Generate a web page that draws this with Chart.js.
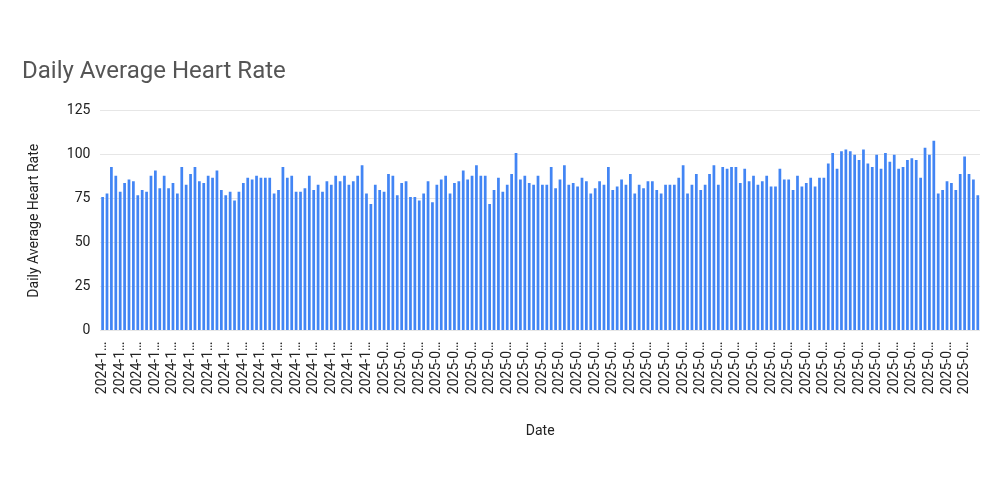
<!DOCTYPE html>
<html>
<head>
<meta charset="utf-8">
<script src="https://cdn.jsdelivr.net/npm/chart.js@4/dist/chart.umd.min.js"></script>
<style>
  html, body { margin: 0; padding: 0; background: #fff; }
  #wrap { width: 1000px; height: 500px; }
</style>
</head>
<body>
<div id="wrap"><canvas id="c"></canvas></div>
<script>
"use strict";

const startDate = "2024-11-01";
const heartRate = [
  76, 78, 93, 88, 79, 84, 86, 85, 77, 80, 79, 88, 91, 81, 88, 81, 84, 78, 93, 83,
  89, 93, 85, 84, 88, 87, 91, 80, 77, 79, 74, 79, 84, 87, 86, 88, 87, 87, 87, 78,
  80, 93, 87, 88, 79, 79, 81, 88, 80, 83,
  79, 85, 83, 88, 85, 88, 83, 85, 88, 94, 78, 72, 83, 80, 79, 89, 88, 77, 84, 85,
  76, 76, 74, 78, 85, 73, 83, 86, 88, 78, 84, 85, 91, 86, 88, 94, 88, 88, 72, 80,
  87, 79, 83, 89, 101, 86, 88, 84, 83,
  88, 83, 83, 93, 81, 86, 94, 83, 84, 82, 87, 85, 78, 81, 85, 83, 93, 80, 82, 86,
  83, 89, 78, 83, 81, 85, 85, 80, 78, 83, 83, 83, 87, 94, 78, 83, 89, 80, 83, 89,
  94, 83, 93, 92, 93, 93, 84, 92, 85, 88, 83,
  85, 88, 82, 82, 92, 86, 86, 80, 88, 82, 84, 87, 82, 87, 87, 95, 101, 92, 102, 103,
  102, 100, 97, 103, 95, 93, 100, 92, 101, 96, 100, 92, 93, 97, 98, 97, 87, 104, 100, 108,
  78, 80, 85, 84, 80, 89, 99, 89, 86, 77
];
const yTicks = [0, 25, 50, 75, 100, 125];

// one date label per bar, day by day from startDate
const dates = heartRate.map((_, i) => {
  const d = new Date(startDate + "T00:00:00Z");
  d.setUTCDate(d.getUTCDate() + i);
  return d.toISOString().slice(0, 10);
});

const FONT = "Roboto, Arial, sans-serif";

new Chart(document.getElementById("c"), {
  type: "bar",
  data: {
    labels: dates,
    datasets: [{
      label: "Daily Average Heart Rate",
      data: heartRate,
      backgroundColor: "#4285F4",
      barPercentage: 0.62,
      categoryPercentage: 1.0,
    }],
  },
  options: {
    responsive: true,
    maintainAspectRatio: false,
    animation: false,
    layout: { padding: { left: 22, right: 20, top: 58, bottom: 56 } },
    plugins: {
      legend: { display: false },
      tooltip: { enabled: false },
      title: {
        display: true,
        text: "Daily Average Heart Rate",
        align: "start",
        color: "#555",
        font: { family: FONT, size: 24, weight: "normal" },
        padding: { top: 0, bottom: 24 },
      },
    },
    scales: {
      x: {
        grid: { display: false },
        border: { display: false },
        ticks: {
          autoSkip: false,
          minRotation: 90,
          maxRotation: 90,
          color: "#222",
          font: { family: FONT, size: 14 },
          callback: function (v, i) {
            if (i % 4 !== 0) return null;
            return this.getLabelForValue(v).slice(0, 6) + "…";
          },
        },
        title: {
          display: true,
          text: "Date",
          color: "#222",
          font: { family: FONT, size: 14 },
          padding: { top: 26 },
        },
      },
      y: {
        min: 0,
        max: 125,
        afterBuildTicks: (axis) => { axis.ticks = yTicks.map((v) => ({ value: v })); },
        grid: { color: "#e6e6e6", drawTicks: false },
        border: { display: false },
        ticks: {
          color: "#222",
          padding: 10,
          font: { family: FONT, size: 14 },
        },
        title: {
          display: true,
          text: "Daily Average Heart Rate",
          color: "#222",
          font: { family: FONT, size: 14 },
          padding: { bottom: 14 },
        },
      },
    },
  },
});
</script>
</body>
</html>
